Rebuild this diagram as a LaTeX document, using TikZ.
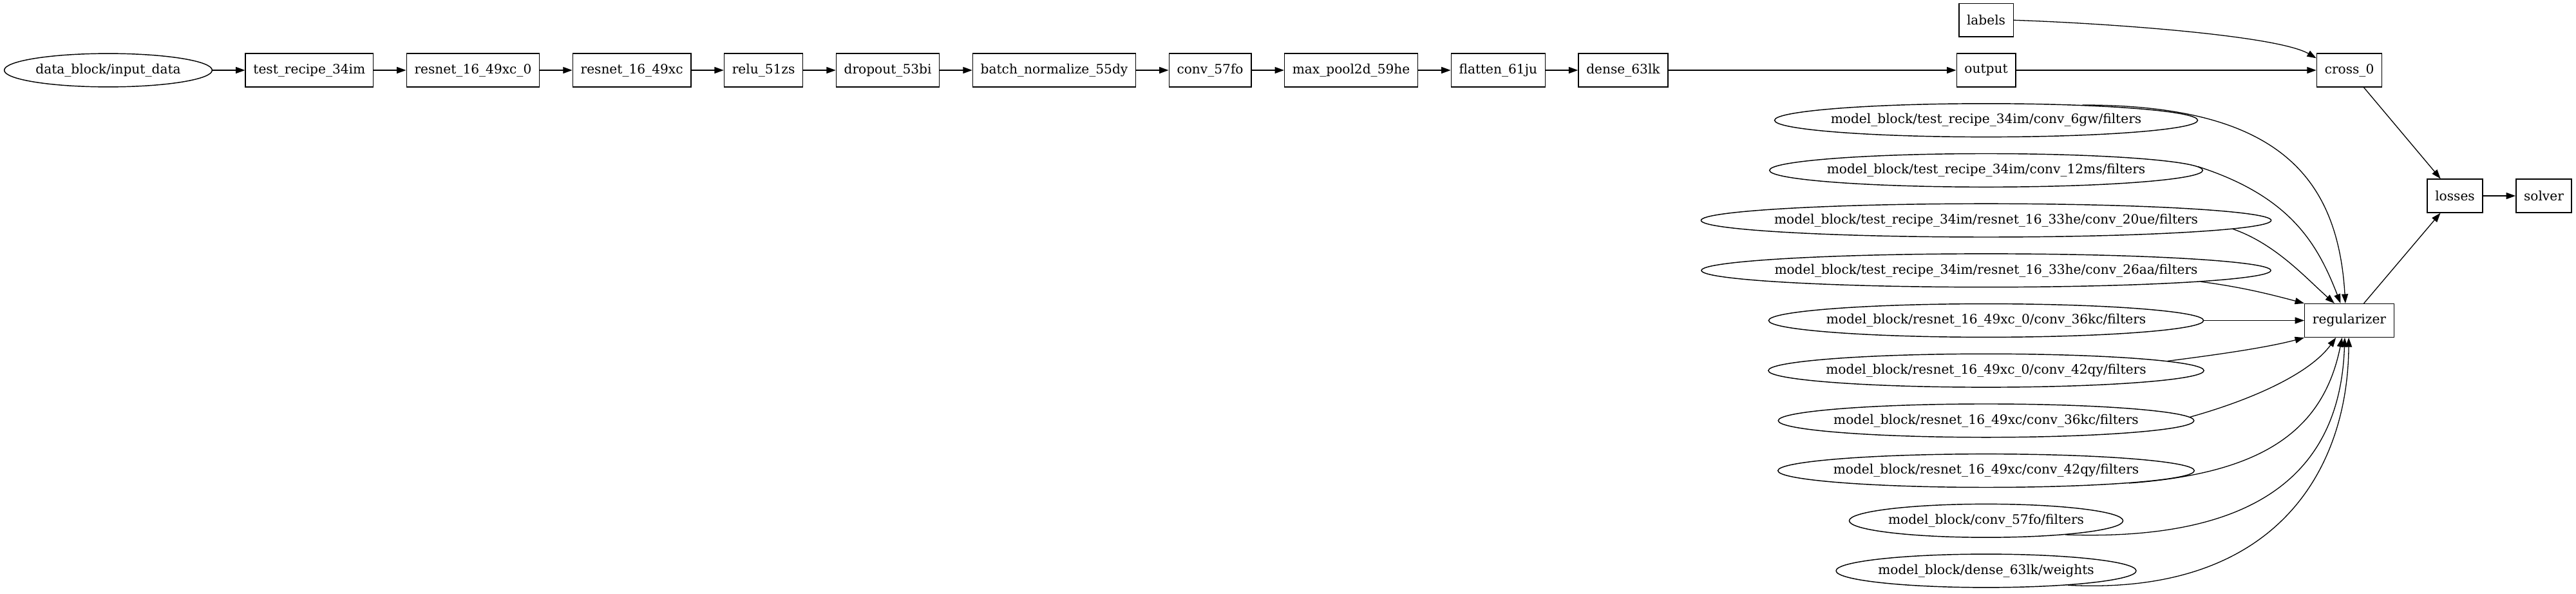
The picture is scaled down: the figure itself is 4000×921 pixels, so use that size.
\documentclass[tikz,border=0pt]{standalone}
\usepackage{fontspec}
\setmainfont{DejaVu Serif}
\usetikzlibrary{shapes.geometric}
\usetikzlibrary{arrows.meta}
\usetikzlibrary{positioning}
\newcommand{\gvfont}{\fontsize{14pt}{16.8pt}\selectfont}
\newlength{\varwd}
\newcommand{\varnode}[3]{%
	\pgfinterruptpicture\settowidth{\varwd}{\gvfont #3}\global\varwd=\varwd\endpgfinterruptpicture
	\node [node_var, minimum width=1.3*\varwd+20.8pt, label=center:{#3}, #2] (#1) {};%
}
\tikzset{
	gnode/.style = {
		align=center,
		inner ysep=0pt,
		inner xsep=8.5pt,
		minimum height=36pt,
		draw=black,
		line width=1pt
	},
	node_op/.style = {
		gnode,
		rectangle,
		minimum width=54pt
	},
	node_var/.style = {
		gnode,
		ellipse,
		inner sep=0pt
	},
}

\begin{document}
\begin{tikzpicture}[x=0.695pt, y=-0.695pt, ->, >={Triangle[length=10pt, width=7pt]}, line width=0.9pt, font=\gvfont]
\useasboundingbox (0,0) rectangle (4000,921);
% main chain
\varnode{in_data}{at={(168,109)}}{data\_block/input\_data}
\node [node_op, right=35pt of in_data] (recipe) {test\_recipe\_34im};
\node [node_op, right=35pt of recipe] (res_a) {resnet\_16\_49xc\_0};
\node [node_op, right=35pt of res_a] (res_b) {resnet\_16\_49xc};
\node [node_op, right=35pt of res_b] (relu) {relu\_51zs};
\node [node_op, right=35pt of relu] (drop) {dropout\_53bi};
\node [node_op, right=35pt of drop] (bnorm) {batch\_normalize\_55dy};
\node [node_op, right=35pt of bnorm] (conv) {conv\_57fo};
\node [node_op, right=35pt of conv] (pool) {max\_pool2d\_59he};
\node [node_op, right=35pt of pool] (flat) {flatten\_61ju};
\node [node_op, right=35pt of flat] (dense) {dense\_63lk};
% output column
\node [node_op] (output) at (3084,109) {output};
\node [node_op, above=17pt of output] (labels) {labels};
\varnode{w1}{below=17pt of output}{model\_block/test\_recipe\_34im/conv\_6gw/filters}
\varnode{w2}{below=17pt of w1}{model\_block/test\_recipe\_34im/conv\_12ms/filters}
\varnode{w3}{below=17pt of w2}{model\_block/test\_recipe\_34im/resnet\_16\_33he/conv\_20ue/filters}
\varnode{w4}{below=17pt of w3}{model\_block/test\_recipe\_34im/resnet\_16\_33he/conv\_26aa/filters}
\varnode{w5}{below=17pt of w4}{model\_block/resnet\_16\_49xc\_0/conv\_36kc/filters}
\varnode{w6}{below=17pt of w5}{model\_block/resnet\_16\_49xc\_0/conv\_42qy/filters}
\varnode{w7}{below=17pt of w6}{model\_block/resnet\_16\_49xc/conv\_36kc/filters}
\varnode{w8}{below=17pt of w7}{model\_block/resnet\_16\_49xc/conv\_42qy/filters}
\varnode{w9}{below=17pt of w8}{model\_block/conv\_57fo/filters}
\varnode{w10}{below=17pt of w9}{model\_block/dense\_63lk/weights}
% loss side
\node [node_op] (cross) at (3648,109) {cross\_0};
\node [node_op] (reg) at (cross |- w5) {regularizer};
\node [node_op] (losses) at (3812,304) {losses};
\node [node_op, right=35pt of losses] (solver) {solver};

\foreach \a/\b in {in_data/recipe, recipe/res_a, res_a/res_b, res_b/relu, relu/drop, drop/bnorm, bnorm/conv, conv/pool, pool/flat, flat/dense, dense/output, output/cross, cross/losses, reg/losses, losses/solver, w5/reg}
	\draw (\a) -- (\b);
\draw (labels.east) .. controls +(150,5) and +(-60,-35) .. (cross.160);
% weights into the regularizer
\draw (w1.9) .. controls +(297,0) and +(-12,-202) .. (reg.103);
\draw (w2.1) .. controls +(143,46) and +(-36,-93) .. (reg.117);
\draw (w3.-2) .. controls +(66,23) and +(-45,-40) .. (reg.131);
\draw (w4.-3) .. controls +(60,8) and +(-60,-16) .. (reg.north west);
\draw (w6.3) .. controls +(70,-9) and +(-60,16) .. (reg.south west);
\draw (w7.1) .. controls +(100,-28) and +(-40,55) .. (reg.232);
\draw (w8.-5) .. controls +(200,-15) and +(-30,150) .. (reg.247);
\draw (w9.-10) .. controls +(290,10) and +(-7,215) .. (reg.255);
\draw (w10.-10) .. controls +(333,17) and +(-1,195) .. (reg.268);
\end{tikzpicture}
\end{document}
